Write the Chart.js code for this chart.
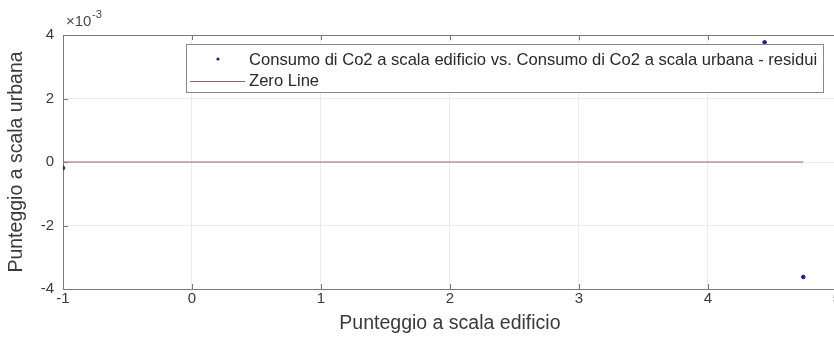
<!DOCTYPE html>
<html>
<head>
<meta charset="utf-8">
<script src="https://cdn.jsdelivr.net/npm/chart.js@4/dist/chart.umd.min.js"></script>
<style>
  html, body { margin: 0; padding: 0; background: #fff; overflow: hidden; }
  #wrap { width: 842px; height: 342px; }
</style>
</head>
<body>
<div id="wrap"><canvas id="residui"></canvas></div>
<script>
// residui (x = punteggio edificio, y = residuo in unità di 1e-3)
const residuiX = [-1, 4.44, 4.74];
const residuiY = [-0.19, 3.77, -3.62];
const zeroX = [-1, 4.74];
const zeroY = [0, 0];
const xTicks = [-1, 0, 1, 2, 3, 4, 5];
const yTicks = [-4, -2, 0, 2, 4];

const legendLabels = [
    'Consumo di Co2 a scala edificio vs. Consumo di Co2 a scala urbana - residui',
    'Zero Line'
];
const pointColor = '#1c1c8e';
const lineColor = '#a0606a';
const fontFamily = '"Liberation Sans", Arial, sans-serif';

// box, esponente e legenda in stile MATLAB
const matlabDecor = {
    id: 'matlabDecor',
    afterDraw(chart) {
        const ctx = chart.ctx;
        const a = chart.chartArea;
        const xs = chart.scales.x;
        const ys = chart.scales.y;
        ctx.save();

        // ticks interni
        ctx.strokeStyle = '#7a7a7a';
        ctx.lineWidth = 1;
        ctx.beginPath();
        xTicks.forEach(v => {
            const px = Math.round(xs.getPixelForValue(v)) + 0.5;
            ctx.moveTo(px, a.bottom); ctx.lineTo(px, a.bottom - 5);
            ctx.moveTo(px, a.top); ctx.lineTo(px, a.top + 5);
        });
        yTicks.forEach(v => {
            const py = Math.round(ys.getPixelForValue(v)) + 0.5;
            ctx.moveTo(a.left, py); ctx.lineTo(a.left + 5, py);
        });
        ctx.stroke();

        // bordo superiore
        ctx.beginPath();
        ctx.moveTo(a.left, Math.round(a.top) + 0.5);
        ctx.lineTo(a.right, Math.round(a.top) + 0.5);
        ctx.stroke();

        // moltiplicatore asse y
        ctx.fillStyle = '#4a4a4a';
        ctx.font = '15px ' + fontFamily;
        ctx.textBaseline = 'alphabetic';
        ctx.textAlign = 'left';
        ctx.fillText('\u00d710', a.left + 3, a.top - 9);
        ctx.font = '11px ' + fontFamily;
        ctx.fillText('-3', a.left + 29, a.top - 17);

        // legenda
        const lx = 186, ly = 44, lw = 637, lh = 48;
        ctx.fillStyle = '#ffffff';
        ctx.fillRect(lx, ly, lw, lh);
        ctx.strokeStyle = '#8a8a8a';
        ctx.strokeRect(lx + 0.5, ly + 0.5, lw, lh);

        ctx.fillStyle = pointColor;
        ctx.beginPath();
        ctx.arc(218, 59, 1.6, 0, Math.PI * 2);
        ctx.fill();

        ctx.strokeStyle = lineColor;
        ctx.beginPath();
        ctx.moveTo(190, 81.5);
        ctx.lineTo(245, 81.5);
        ctx.stroke();

        ctx.fillStyle = '#2a2a2a';
        ctx.font = '16.6px ' + fontFamily;
        ctx.textBaseline = 'middle';
        ctx.fillText(legendLabels[0], 249, 60);
        ctx.fillText(legendLabels[1], 249, 81);
        ctx.restore();
    }
};

new Chart(document.getElementById('residui'), {
    type: 'scatter',
    data: {
        datasets: [
            {
                label: legendLabels[0],
                data: residuiX.map((x, i) => ({ x: x, y: residuiY[i] })),
                backgroundColor: pointColor,
                borderColor: pointColor,
                pointRadius: 1.8,
                pointHoverRadius: 1.8,
                order: 1
            },
            {
                label: legendLabels[1],
                type: 'line',
                data: zeroX.map((x, i) => ({ x: x, y: zeroY[i] })),
                borderColor: lineColor,
                borderWidth: 1,
                pointRadius: 0,
                fill: false,
                order: 2
            }
        ]
    },
    options: {
        responsive: true,
        maintainAspectRatio: false,
        animation: false,
        layout: { padding: { top: 35, left: 0, right: 0, bottom: 0 } },
        plugins: {
            legend: { display: false },
            tooltip: { enabled: false }
        },
        scales: {
            x: {
                type: 'linear',
                min: -1,
                max: 5,
                afterBuildTicks: scale => { scale.ticks = xTicks.map(v => ({ value: v })); },
                afterFit: scale => { scale.height = 53; },
                grid: { color: '#ececec', drawTicks: false },
                border: { color: '#7a7a7a' },
                ticks: {
                    color: '#3a3a3a',
                    font: { family: fontFamily, size: 15 },
                    padding: 1,
                    maxRotation: 0
                },
                title: {
                    display: true,
                    text: 'Punteggio a scala edificio',
                    color: '#3a3a3a',
                    font: { family: fontFamily, size: 19.5 },
                    padding: { top: 0, bottom: 7 }
                }
            },
            y: {
                type: 'linear',
                min: -4,
                max: 4,
                afterBuildTicks: scale => { scale.ticks = yTicks.map(v => ({ value: v })); },
                afterFit: scale => { scale.width = 63; },
                grid: { color: '#ececec', drawTicks: false },
                border: { color: '#7a7a7a' },
                ticks: {
                    color: '#3a3a3a',
                    font: { family: fontFamily, size: 15 },
                    padding: 9
                },
                title: {
                    display: true,
                    text: 'Punteggio a scala urbana',
                    color: '#3a3a3a',
                    font: { family: fontFamily, size: 19.5 },
                    padding: { top: 5, bottom: 0 }
                }
            }
        }
    },
    plugins: [matlabDecor]
});
</script>
</body>
</html>
